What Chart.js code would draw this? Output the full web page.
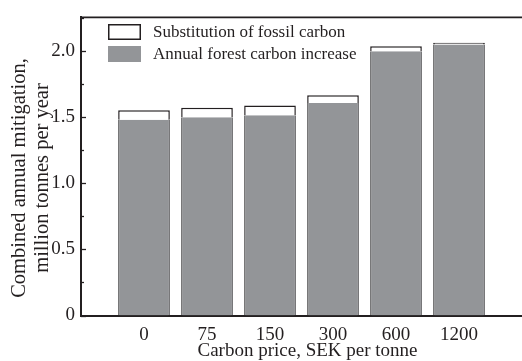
<!DOCTYPE html>
<html>
<head>
<meta charset="utf-8">
<script src="https://cdn.jsdelivr.net/npm/chart.js@4.4.1/dist/chart.umd.min.js"></script>
<style>
  html, body { margin: 0; padding: 0; background: #fff; }
  #wrap { width: 522px; height: 361px; position: relative; }
</style>
</head>
<body>
<div id="wrap"><canvas id="c"></canvas></div>
<script>
// Carbon price scenarios (SEK per tonne)
const categories = ['0', '75', '150', '300', '600', '1200'];
// Annual forest carbon increase, million tonnes per year
const forestIncrease = [1.48, 1.50, 1.515, 1.607, 1.998, 2.05];
// Substitution of fossil carbon, million tonnes per year (stacked on top)
const substitution = [0.073, 0.072, 0.074, 0.060, 0.039, 0.013];
// Labelled y-axis values
const yTickLabels = ['0', '0.5', '1.0', '1.5', '2.0'];
// Axis titles
const xTitle = 'Carbon price, SEK per tonne';
const yTitle = ['Combined annual mitigation,', 'million tonnes per year'];

const FONT = 'Liberation Serif';
const INK = '#231f20';
const GREY = '#939598';

const toPoints = arr => arr.map((v, i) => ({ x: i, y: v }));

// Inward tick marks on the value axis, plus the top frame line
const frame = {
  id: 'frame',
  afterDatasetsDraw(chart) {
    const { ctx, chartArea, scales } = chart;
    const y = scales.y;
    ctx.save();
    ctx.strokeStyle = INK;
    ctx.lineWidth = 1.3;
    y.ticks.forEach(t => {
      const py = Math.round(y.getPixelForValue(t.value)) + 0.5;
      const major = Math.abs(t.value * 2 - Math.round(t.value * 2)) < 1e-6;
      const len = major ? 5 : 3;
      ctx.beginPath();
      ctx.moveTo(chartArea.left, py);
      ctx.lineTo(chartArea.left + len, py);
      ctx.stroke();
    });
    ctx.lineWidth = 1.6;
    ctx.beginPath();
    ctx.moveTo(chartArea.left, chartArea.top);
    ctx.lineTo(chartArea.right, chartArea.top);
    ctx.stroke();
    ctx.restore();
  }
};

// Axis titles, placed a little right of / below the plot centre
const axisTitles = {
  id: 'axisTitles',
  afterDraw(chart) {
    const { ctx } = chart;
    ctx.save();
    ctx.fillStyle = INK;
    ctx.textAlign = 'center';
    ctx.textBaseline = 'middle';
    ctx.font = '19px "' + FONT + '"';
    ctx.fillText(xTitle, 307.5, 351);
    ctx.font = '20.5px "' + FONT + '"';
    ctx.translate(0, 178);
    ctx.rotate(-Math.PI / 2);
    yTitle.forEach((line, i) => ctx.fillText(line, 0, 19.5 + i * 23));
    ctx.restore();
  }
};

// Legend boxes inside the plot, top-left
const insideLegend = {
  id: 'insideLegend',
  afterDraw(chart) {
    const { ctx } = chart;
    const items = chart.data.datasets.slice().reverse();
    ctx.save();
    ctx.font = '17px "' + FONT + '"';
    ctx.textBaseline = 'middle';
    items.forEach((ds, i) => {
      const bx = 108, by = 24 + i * 22, bw = 33, bh = 16;
      ctx.fillStyle = ds.backgroundColor;
      ctx.fillRect(bx, by, bw, bh);
      if (ds.backgroundColor === '#ffffff') {
        ctx.strokeStyle = INK;
        ctx.lineWidth = 1.5;
        ctx.strokeRect(bx + 0.75, by + 0.75, bw - 1.5, bh - 1.5);
      }
      ctx.fillStyle = INK;
      ctx.fillText(ds.label, 153, by + bh / 2 + 0.5);
    });
    ctx.restore();
  }
};

new Chart(document.getElementById('c'), {
  type: 'bar',
  data: {
    datasets: [
      {
        label: 'Annual forest carbon increase',
        data: toPoints(forestIncrease),
        backgroundColor: GREY,
        borderColor: '#3a3a3c',
        borderWidth: { left: 1.3, right: 1.3, top: 0, bottom: 0 },
        borderSkipped: false,
        barPercentage: 0.82,
        categoryPercentage: 1
      },
      {
        label: 'Substitution of fossil carbon',
        data: toPoints(substitution),
        backgroundColor: '#ffffff',
        borderColor: INK,
        borderWidth: { left: 1.5, right: 1.5, top: 1.5, bottom: 0 },
        borderSkipped: false,
        barPercentage: 0.82,
        categoryPercentage: 1
      }
    ]
  },
  options: {
    responsive: true,
    maintainAspectRatio: false,
    animation: false,
    layout: { padding: { top: 13, right: 0, left: 0, bottom: 0 } },
    plugins: { legend: { display: false }, tooltip: { enabled: false } },
    scales: {
      x: {
        type: 'linear',
        stacked: true,
        offset: false,
        min: -1,
        max: 6,
        afterBuildTicks: s => { s.ticks = categories.map((_, i) => ({ value: i })); },
        afterFit: s => { s.height = 45.5; },
        grid: { display: false, drawTicks: false },
        border: { display: true, color: INK, width: 2 },
        ticks: {
          color: INK,
          font: { family: FONT, size: 19 },
          padding: 8,
          maxRotation: 0,
          autoSkip: false,
          callback: v => categories[v] ?? ''
        }
      },
      y: {
        stacked: true,
        min: 0,
        max: 2.255,
        afterFit: s => { s.width = 81; },
        grid: { display: false, drawTicks: false },
        border: { display: true, color: INK, width: 2 },
        ticks: {
          stepSize: 0.25,
          includeBounds: false,
          color: INK,
          font: { family: FONT, size: 19 },
          padding: 6,
          autoSkip: false,
          callback: v => {
            const k = Math.round(v * 2);
            return Math.abs(v * 2 - k) < 1e-6 ? (yTickLabels[k] ?? '') : '';
          }
        }
      }
    }
  },
  plugins: [frame, axisTitles, insideLegend]
});
</script>
</body>
</html>
